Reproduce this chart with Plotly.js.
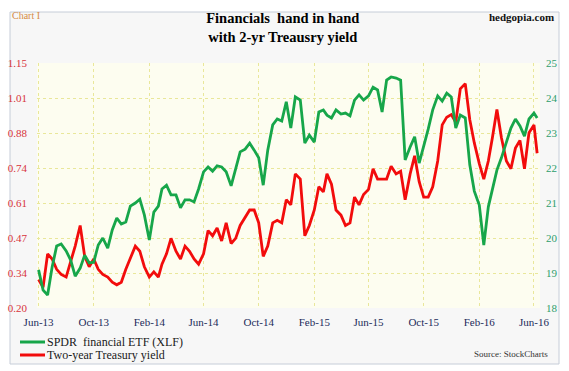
<!DOCTYPE html>
<html>
<head>
<meta charset="utf-8">
<script src="https://cdn.plot.ly/plotly-3.0.1.min.js"></script>
<style>
  html, body { margin: 0; padding: 0; background: #ffffff; }
  #chart { width: 569px; height: 371px; }
</style>
</head>
<body>
<div id="chart"></div>
<script>
// ---- Data ----
const dates = [
  "2013-06-01","2013-06-11","2013-06-21","2013-07-01","2013-07-11","2013-07-21","2013-08-01","2013-08-11","2013-08-21","2013-09-01",
  "2013-09-11","2013-09-21","2013-10-01","2013-10-11","2013-10-21","2013-11-01","2013-11-11","2013-11-21","2013-12-01","2013-12-11",
  "2013-12-21","2014-01-01","2014-01-11","2014-01-21","2014-02-01","2014-02-11","2014-02-21","2014-03-01","2014-03-11","2014-03-21",
  "2014-04-01","2014-04-11","2014-04-21","2014-05-01","2014-05-11","2014-05-21","2014-06-01","2014-06-11","2014-06-21","2014-07-01",
  "2014-07-11","2014-07-21","2014-08-01","2014-08-11","2014-08-21","2014-09-01","2014-09-11","2014-09-21","2014-10-01","2014-10-11",
  "2014-10-21","2014-11-01","2014-11-11","2014-11-21","2014-12-01","2014-12-11","2014-12-21","2015-01-01","2015-01-11","2015-01-21",
  "2015-02-01","2015-02-11","2015-02-21","2015-03-01","2015-03-11","2015-03-21","2015-04-01","2015-04-11","2015-04-21","2015-05-01",
  "2015-05-11","2015-05-21","2015-06-01","2015-06-11","2015-06-21","2015-07-01","2015-07-11","2015-07-21","2015-08-01","2015-08-11",
  "2015-08-21","2015-09-01","2015-09-11","2015-09-21","2015-10-01","2015-10-11","2015-10-21","2015-11-01","2015-11-11","2015-11-21",
  "2015-12-01","2015-12-11","2015-12-21","2016-01-01","2016-01-11","2016-01-21","2016-02-01","2016-02-11","2016-02-21","2016-03-01",
  "2016-03-11","2016-03-21","2016-04-01","2016-04-11","2016-04-21","2016-05-01","2016-05-11","2016-05-21","2016-06-01","2016-06-08"
];

// SPDR financial ETF (XLF), right axis
const xlf = [
  19.09,18.51,18.37,19.17,19.77,19.83,19.63,19.37,18.91,19.14,
  19.51,19.29,19.31,19.80,20.00,19.71,20.23,20.57,20.40,20.46,
  20.91,21.00,21.11,20.66,19.94,20.74,20.91,21.40,21.51,21.23,
  21.23,20.86,21.09,21.09,21.03,21.40,21.89,22.03,21.91,22.06,
  22.03,21.89,21.49,21.94,22.46,22.54,22.71,22.51,22.29,21.51,
  22.51,23.23,23.40,23.34,23.89,23.14,24.03,23.94,22.71,22.94,
  22.74,23.60,23.66,23.51,23.43,23.66,23.54,23.57,23.49,23.94,
  24.09,23.94,24.06,24.31,24.23,23.60,24.51,24.60,24.57,24.51,
  22.23,22.60,22.89,22.14,22.60,23.11,23.66,24.06,23.91,24.14,
  24.03,23.14,23.51,23.43,22.09,21.34,20.94,19.80,20.89,21.43,
  21.94,22.29,22.71,23.14,23.40,23.20,22.91,23.40,23.57,23.43
];

// Two-year Treasury yield, left axis
const yield2y = [
  0.31,0.28,0.41,0.39,0.35,0.33,0.32,0.38,0.44,0.52,
  0.40,0.36,0.39,0.35,0.33,0.32,0.30,0.29,0.30,0.35,
  0.39,0.44,0.42,0.36,0.32,0.34,0.32,0.37,0.41,0.47,
  0.42,0.39,0.44,0.42,0.39,0.37,0.41,0.50,0.48,0.51,
  0.46,0.53,0.45,0.47,0.52,0.55,0.58,0.58,0.53,0.40,
  0.44,0.53,0.54,0.53,0.62,0.60,0.72,0.70,0.48,0.52,
  0.58,0.67,0.65,0.72,0.68,0.58,0.56,0.52,0.53,0.63,
  0.60,0.64,0.66,0.74,0.70,0.70,0.70,0.75,0.72,0.73,
  0.62,0.72,0.79,0.69,0.63,0.63,0.67,0.77,0.91,0.94,
  0.95,0.92,1.05,1.07,0.93,0.84,0.76,0.70,0.77,0.86,
  0.97,0.86,0.77,0.74,0.82,0.85,0.74,0.88,0.91,0.80
];

const xTickVals = ["2013-06-01","2013-10-01","2014-02-01","2014-06-01","2014-10-01","2015-02-01","2015-06-01","2015-10-01","2016-02-01","2016-06-01"];
const xTickText = ["Jun-13","Oct-13","Feb-14","Jun-14","Oct-14","Feb-15","Jun-15","Oct-15","Feb-16","Jun-16"];
const leftTickText = ["0.20","0.34","0.47","0.61","0.74","0.88","1.01","1.15"];
const rightTickText = ["18","19","20","21","22","23","24","25"];
const seriesNames = ["SPDR  financial ETF (XLF)", "Two-year Treasury yield"];

// ---- Layout helpers (pixel frame of the plot area) ----
const L = 37, R = 540, T = 63, B = 308;
const W = R - L, H = B - T;
const px = x => (x - L) / W;
const py = y => (B - y) / H;

const leftMin = 0.20, leftMax = 1.15, rightMin = 18, rightMax = 25;
const leftTickVals = leftTickText.map((t, i) => leftMin + i * (leftMax - leftMin) / (leftTickText.length - 1));
const rightTickVals = rightTickText.map(Number);

const GREEN = "#17a64a";
const RED = "#f20c0c";
const SERIF = "Liberation Serif, Times New Roman, serif";

const traces = [
  { x: dates, y: xlf, yaxis: "y2", type: "scatter", mode: "lines", name: seriesNames[0],
    line: { color: GREEN, width: 2.8 }, showlegend: false, hoverinfo: "skip" },
  { x: dates, y: yield2y, yaxis: "y", type: "scatter", mode: "lines", name: seriesNames[1],
    line: { color: RED, width: 2.8 }, showlegend: false, hoverinfo: "skip" }
];

const layout = {
  width: 569, height: 371,
  margin: { l: L, r: 569 - R, t: T, b: 371 - B, pad: 0 },
  paper_bgcolor: "#ffffff",
  plot_bgcolor: "rgba(0,0,0,0)",
  showlegend: false,
  font: { family: SERIF, size: 11, color: "#222" },
  title: {
    text: "<b>Financials  hand in hand<br>with 2-yr Treausry yield</b>",
    font: { family: SERIF, size: 14.5, color: "#000" },
    xref: "container", x: 0.497, xanchor: "center",
    yref: "container", y: 1 - 23 / 371, yanchor: "top"
  },
  xaxis: {
    type: "date",
    range: ["2013-05-28 12:00", "2016-06-14 08:00"],
    tickmode: "array", tickvals: xTickVals, ticktext: xTickText,
    ticks: "", ticklabelstandoff: 6,
    tickfont: { family: SERIF, size: 11, color: "#1c2b5a" },
    showgrid: true, gridcolor: "#e9e79a", griddash: "dot", gridwidth: 1,
    zeroline: false, showline: false, fixedrange: true
  },
  yaxis: {
    range: [leftMin, leftMax],
    tickmode: "array", tickvals: leftTickVals, ticktext: leftTickText,
    ticks: "", ticklabelstandoff: 9,
    tickfont: { family: SERIF, size: 11, color: "#d8333b" },
    showgrid: true, gridcolor: "#e9e79a", griddash: "dot", gridwidth: 1,
    zeroline: false, showline: false, fixedrange: true
  },
  yaxis2: {
    range: [rightMin, rightMax], overlaying: "y", side: "right",
    tickmode: "array", tickvals: rightTickVals, ticktext: rightTickText,
    ticks: "", ticklabelstandoff: 5,
    tickfont: { family: SERIF, size: 11, color: "#2e9e6c" },
    showgrid: false, zeroline: false, showline: false, fixedrange: true
  },
  shapes: [
    { type: "rect", xref: "paper", yref: "paper", layer: "below",
      x0: px(10), x1: px(559), y0: py(364), y1: py(12),
      fillcolor: "#f7f7f7", line: { color: "#c6cdd8", width: 1 } },
    { type: "rect", xref: "paper", yref: "paper", layer: "below",
      x0: 0, x1: 1, y0: 0, y1: 1,
      fillcolor: "#fdfdf0", line: { width: 0 } },
    { type: "line", xref: "paper", yref: "paper",
      x0: px(20), x1: px(45), y0: py(342), y1: py(342),
      line: { color: GREEN, width: 3 } },
    { type: "line", xref: "paper", yref: "paper",
      x0: px(20), x1: px(45), y0: py(355), y1: py(355),
      line: { color: RED, width: 3 } }
  ],
  annotations: [
    { text: "Chart I", xref: "paper", yref: "paper", x: px(10), y: py(16),
      xanchor: "left", yanchor: "middle", showarrow: false,
      font: { family: SERIF, size: 10, color: "#d68b45" } },
    { text: "<b>hedgopia.com</b>", xref: "paper", yref: "paper", x: px(556), y: py(17),
      xanchor: "right", yanchor: "middle", showarrow: false,
      font: { family: SERIF, size: 11, color: "#111" } },
    { text: seriesNames[0], xref: "paper", yref: "paper", x: px(45), y: py(342),
      xanchor: "left", yanchor: "middle", showarrow: false,
      font: { family: SERIF, size: 12, color: "#1a1a1a" } },
    { text: seriesNames[1], xref: "paper", yref: "paper", x: px(45), y: py(355),
      xanchor: "left", yanchor: "middle", showarrow: false,
      font: { family: SERIF, size: 12, color: "#1a1a1a" } },
    { text: "Source: StockCharts", xref: "paper", yref: "paper", x: px(550), y: py(354),
      xanchor: "right", yanchor: "middle", showarrow: false,
      font: { family: SERIF, size: 9, color: "#333" } }
  ]
};

Plotly.newPlot("chart", traces, layout, { staticPlot: true, displayModeBar: false });
</script>
</body>
</html>
